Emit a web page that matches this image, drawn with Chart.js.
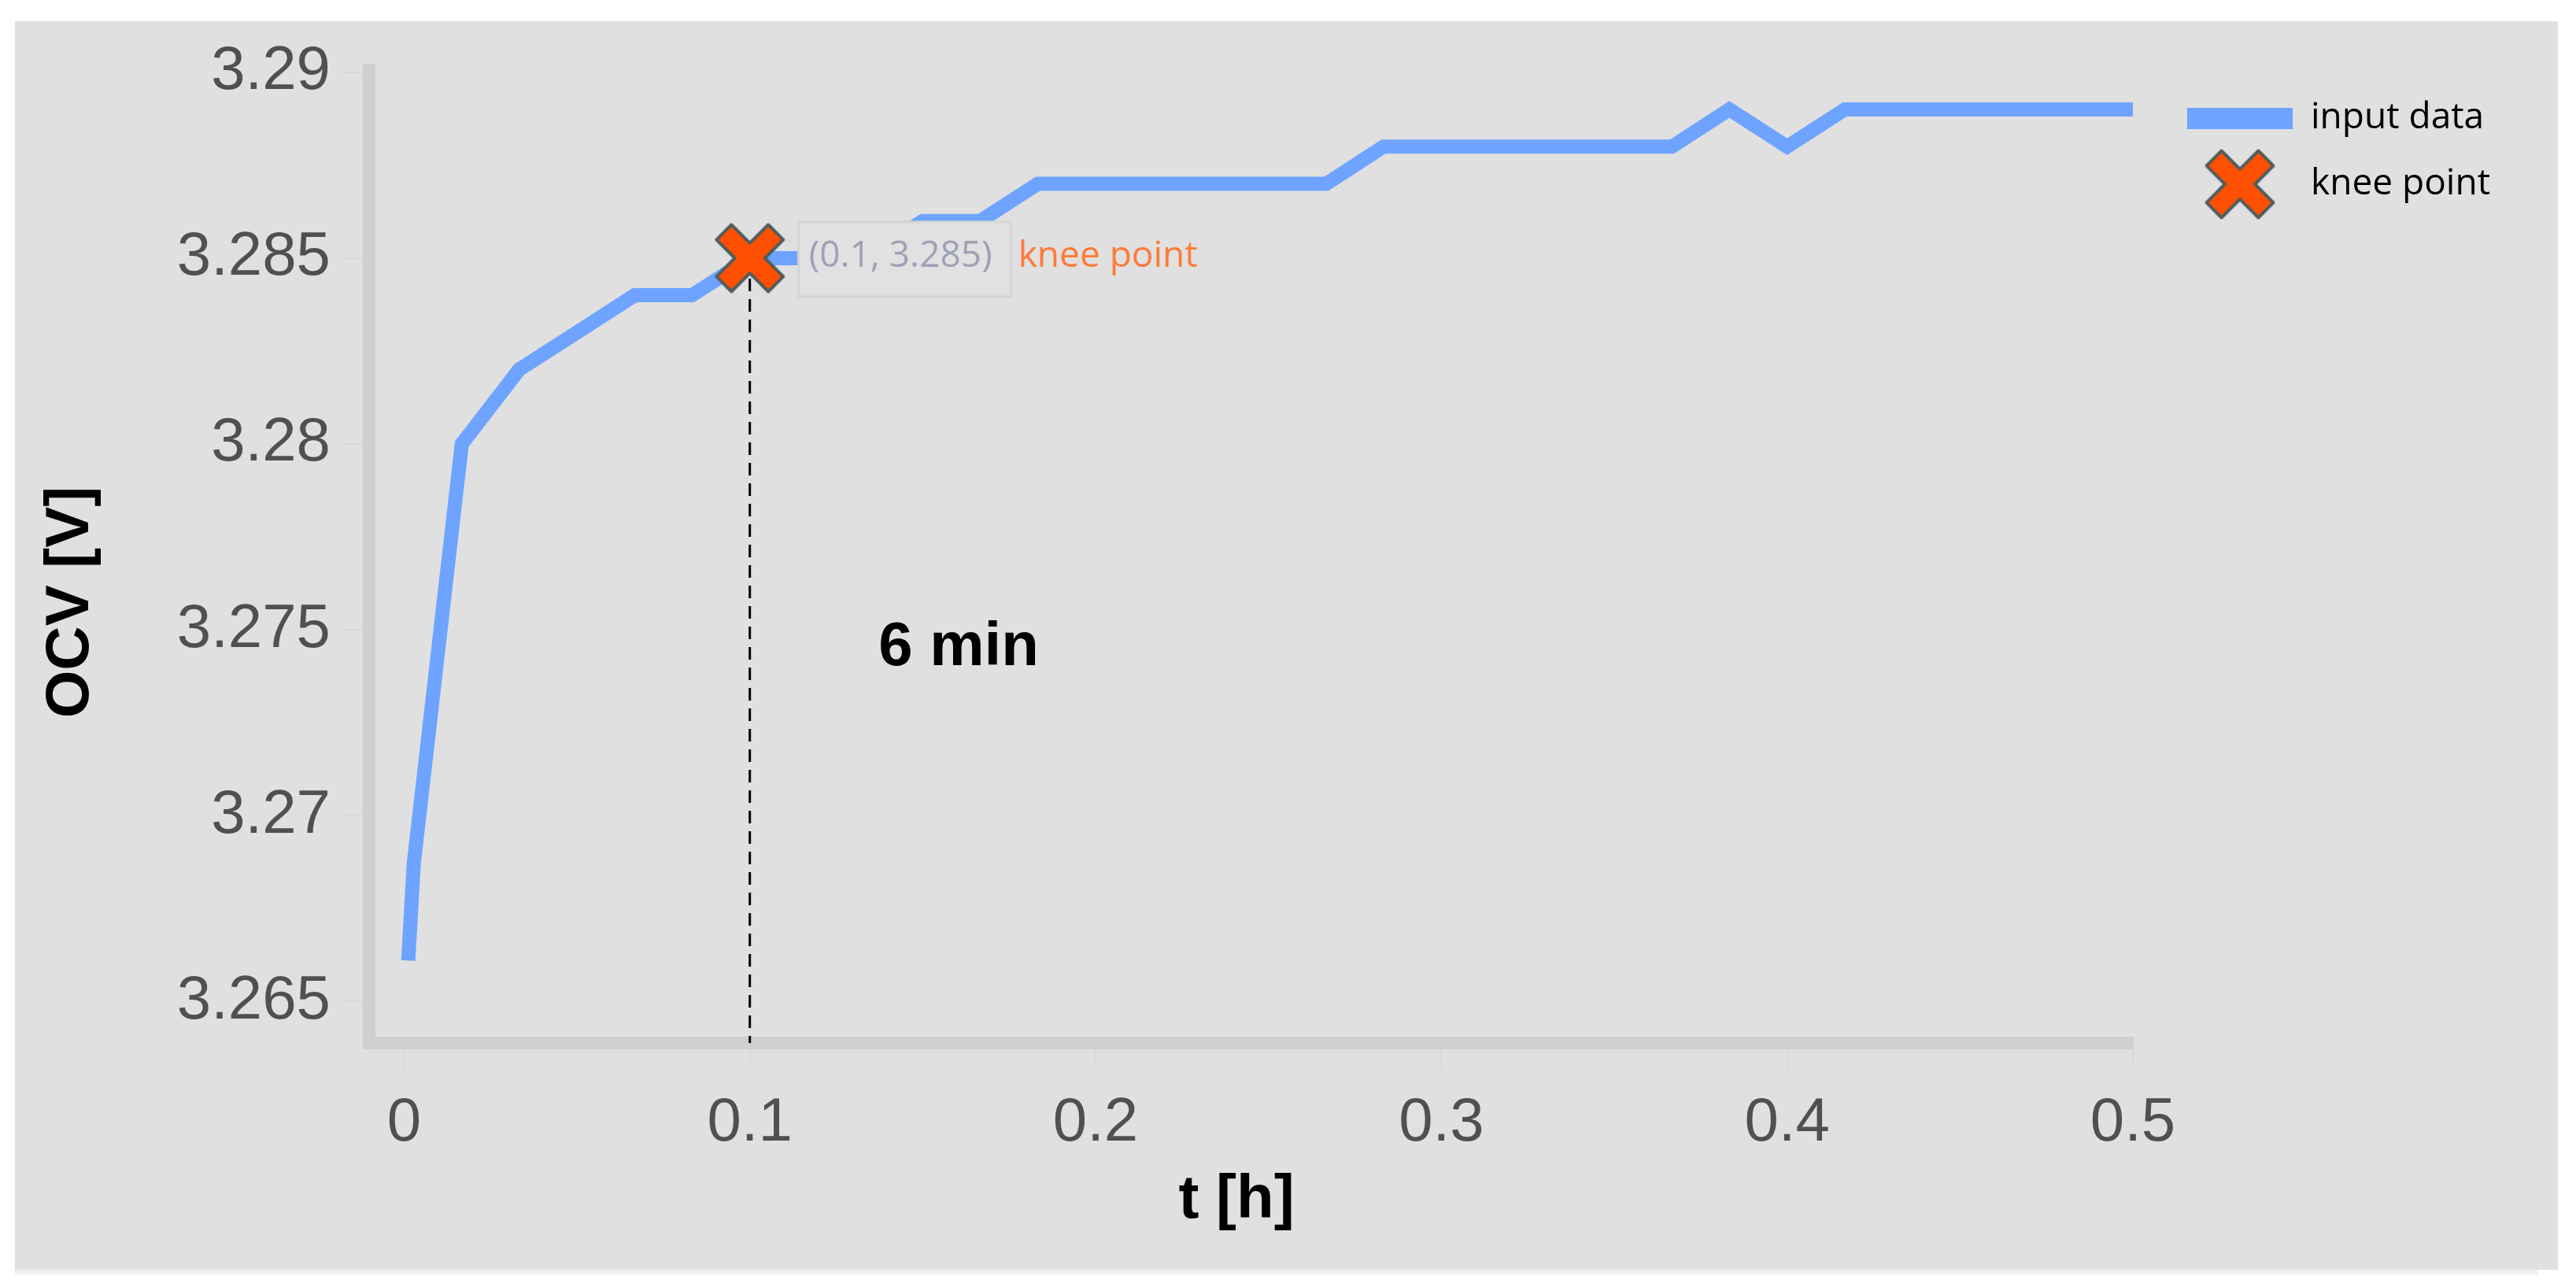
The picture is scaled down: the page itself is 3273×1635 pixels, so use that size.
<!DOCTYPE html>
<html>
<head>
<meta charset="utf-8">
<style>
html,body{margin:0;padding:0;background:#ffffff;overflow:hidden}
canvas{display:block}
</style>
</head>
<body>
<canvas id="c" width="3273" height="1635"></canvas>
<script src="https://cdn.jsdelivr.net/npm/chart.js"></script>
<script>
// ---- data ----
const tHours = [0.0012, 0.0028, 0.0167, 0.0333, 0.05, 0.0667, 0.0833, 0.1, 0.1167, 0.1333,
                0.15, 0.1667, 0.1833, 0.2, 0.2167, 0.2333, 0.25, 0.2667, 0.2833, 0.3,
                0.3167, 0.3333, 0.35, 0.3667, 0.3833, 0.4, 0.4167, 0.4333, 0.45, 0.4667,
                0.4833, 0.5];
const ocvVolts = [3.2661, 3.2687, 3.28, 3.282, 3.283, 3.284, 3.284, 3.285, 3.285, 3.285,
                  3.286, 3.286, 3.287, 3.287, 3.287, 3.287, 3.287, 3.287, 3.288, 3.288,
                  3.288, 3.288, 3.288, 3.288, 3.289, 3.288, 3.289, 3.289, 3.289, 3.289,
                  3.289, 3.289];
const kneeT = [0.1];
const kneeV = [3.285];
const seriesNames = ['input data', 'knee point'];
const kneeCoordText = '(0.1, 3.285)';
const durationText = '6 min';
const durationAt = [0.1604, 3.27405];
const xTicks = [0, 0.1, 0.2, 0.3, 0.4, 0.5];
const xTickLabels = ['0', '0.1', '0.2', '0.3', '0.4', '0.5'];
const yTicks = [3.265, 3.27, 3.275, 3.28, 3.285, 3.29];
const yTickLabels = ['3.265', '3.27', '3.275', '3.28', '3.285', '3.29'];
const xRange = [-0.0101, 0.5];
const yRange = [3.26388, 3.29006];
const xTitle = 't [h]';
const yTitle = 'OCV [V]';

// ---- styles ----
const BLUE = '#6ea4ff';
const BG = '#e0e0e0';
const AXIS = '#d0d0d0';
const TICKC = '#d5d9e1';
const LEGEND_FONT = {family: '"Open Sans", sans-serif', size: 46};
const LEGEND_PAD = 38;
const LEGEND_BOX = 165;

function makeCross(size, arm, offsetX) {
  const pad = 5;
  const w = Math.ceil(size + 2 * pad + 2 * Math.abs(offsetX));
  const h = Math.ceil(size + 2 * pad);
  const c = document.createElement('canvas');
  c.width = w; c.height = h;
  const g = c.getContext('2d');
  g.translate(w / 2 + offsetX, h / 2);
  g.rotate(Math.PI / 4);
  const b = arm / 2;
  const a = size / Math.SQRT2 - b;
  const pts = [[-b,-a],[b,-a],[b,-b],[a,-b],[a,b],[b,b],[b,a],[-b,a],[-b,b],[-a,b],[-a,-b],[-b,-b]];
  g.beginPath();
  pts.forEach((p, i) => i ? g.lineTo(p[0], p[1]) : g.moveTo(p[0], p[1]));
  g.closePath();
  g.fillStyle = '#ff4f00';
  g.fill();
  g.lineWidth = 4;
  g.lineJoin = 'round';
  g.strokeStyle = '#4e5d5d';
  g.stroke();
  return c;
}
function makeLineSwatch(totalW, offsetL, h) {
  const c = document.createElement('canvas');
  c.width = totalW; c.height = h;
  const g = c.getContext('2d');
  g.fillStyle = BLUE;
  g.fillRect(offsetL, 0, totalW - offsetL, h);
  return c;
}
const kneeImg = makeCross(85, 27, 0);
const kneeLegendImg = makeCross(85, 27, 15.5);
const lineLegendImg = makeLineSwatch(LEGEND_BOX, 31, 27);

// legend width so that the plot area ends at the 0.5 tick position
const mctx = document.createElement('canvas').getContext('2d');
mctx.font = LEGEND_FONT.size + 'px ' + LEGEND_FONT.family;
const legendTextW = Math.max(...seriesNames.map(s => mctx.measureText(s).width));
const legendW = LEGEND_PAD + LEGEND_BOX + LEGEND_FONT.size / 2 + legendTextW + 10;
const rightPad = Math.max(0, 3273 - 2710 - legendW);

const bgPlugin = {
  id: 'bg',
  beforeDraw(chart) {
    const ctx = chart.ctx;
    ctx.save();
    ctx.fillStyle = '#ffffff';
    ctx.fillRect(0, 0, chart.width, chart.height);
    ctx.fillStyle = BG;
    ctx.fillRect(19, 27, 3231, 1586);
    ctx.fillStyle = '#efefef';
    ctx.fillRect(19, 1613, 3205, 6);
    ctx.restore();
  }
};

const notePlugin = {
  id: 'notes',
  afterDatasetsDraw(chart) {
    const {ctx, scales} = chart;
    const x = scales.x, y = scales.y;
    const kx = x.getPixelForValue(kneeT[0]);
    const ky = y.getPixelForValue(kneeV[0]);
    ctx.save();
    const bx = kx + 62, by = ky - 46, bw = 270, bh = 95;
    ctx.fillStyle = '#e1e1e1';
    ctx.fillRect(bx, by, bw, bh);
    ctx.strokeStyle = '#d4d4d4';
    ctx.lineWidth = 3;
    ctx.strokeRect(bx, by, bw, bh);
    ctx.beginPath();
    ctx.moveTo(bx, ky - 14);
    ctx.lineTo(kx + 46, ky - 24);
    ctx.strokeStyle = '#d8d8d8';
    ctx.lineWidth = 2;
    ctx.stroke();
    ctx.font = '46px "Open Sans"';
    ctx.textBaseline = 'middle';
    ctx.textAlign = 'left';
    ctx.fillStyle = '#9ea1b6';
    ctx.fillText(kneeCoordText, bx + 13, ky - 2);
    ctx.fillStyle = '#ff7b3a';
    ctx.fillText(seriesNames[1], bx + bw + 9, ky - 2);
    ctx.font = 'bold 78px "Liberation Sans"';
    ctx.fillStyle = '#000000';
    ctx.textAlign = 'center';
    ctx.textBaseline = 'alphabetic';
    ctx.fillText(durationText, x.getPixelForValue(durationAt[0]), y.getPixelForValue(durationAt[1]));
    ctx.restore();
  },
  afterDraw(chart) {
    const ctx = chart.ctx;
    ctx.save();
    ctx.font = 'bold 78px "Liberation Sans"';
    ctx.fillStyle = '#000000';
    ctx.textAlign = 'center';
    ctx.textBaseline = 'alphabetic';
    ctx.fillText(xTitle, 1571, 1547);
    ctx.translate(112, 765);
    ctx.rotate(-Math.PI / 2);
    ctx.fillText(yTitle, 0, 0);
    ctx.restore();
  }
};

const tickFont = {family: '"Liberation Sans", Arial, sans-serif', size: 78};

new Chart(document.getElementById('c'), {
  type: 'line',
  data: {
    datasets: [
      {
        label: seriesNames[1],
        data: kneeT.map((t, i) => ({x: t, y: kneeV[i]})),
        showLine: false,
        pointStyle: kneeImg,
        pointRadius: 40,
        pointHoverRadius: 40,
        order: 0
      },
      {
        label: 'knee marker line',
        data: [{x: kneeT[0], y: kneeV[0]}, {x: kneeT[0], y: yRange[0]}],
        borderColor: '#000000',
        borderWidth: 3,
        borderDash: [16, 10],
        pointRadius: 0,
        fill: false,
        order: 1
      },
      {
        label: seriesNames[0],
        data: tHours.map((t, i) => ({x: t, y: ocvVolts[i]})),
        borderColor: BLUE,
        backgroundColor: BLUE,
        borderWidth: 18,
        borderJoinStyle: 'miter',
        borderCapStyle: 'butt',
        tension: 0,
        pointRadius: 0,
        fill: false,
        order: 2
      }
    ]
  },
  options: {
    responsive: false,
    devicePixelRatio: 1,
    animation: false,
    events: [],
    layout: {padding: {top: 89, right: rightPad, bottom: 0, left: 0}},
    scales: {
      x: {
        type: 'linear',
        min: xRange[0],
        max: xRange[1],
        afterBuildTicks: (s) => { s.ticks = xTicks.map(v => ({value: v})); },
        afterFit: (s) => { s.height = 310; },
        ticks: {
          autoSkip: false,
          maxRotation: 0,
          padding: 24,
          color: '#505050',
          font: tickFont,
          callback: (v) => { const i = xTicks.findIndex(t => Math.abs(t - v) < 1e-9); return i >= 0 ? xTickLabels[i] : ''; }
        },
        grid: {drawOnChartArea: false, drawTicks: true, tickLength: 32, color: TICKC, tickColor: TICKC, lineWidth: 2},
        border: {display: true, color: AXIS, width: 16}
      },
      y: {
        type: 'linear',
        min: yRange[0],
        max: yRange[1],
        afterBuildTicks: (s) => { s.ticks = yTicks.map(v => ({value: v})); },
        afterFit: (s) => { s.width = 469; },
        ticks: {
          autoSkip: false,
          padding: 17,
          color: '#505050',
          font: tickFont,
          callback: (v) => { const i = yTicks.findIndex(t => Math.abs(t - v) < 1e-9); return i >= 0 ? yTickLabels[i] : ''; }
        },
        grid: {drawOnChartArea: false, drawTicks: true, tickLength: 32, color: TICKC, tickColor: TICKC, lineWidth: 2},
        border: {display: true, color: AXIS, width: 16}
      }
    },
    plugins: {
      tooltip: {enabled: false},
      legend: {
        display: true,
        position: 'right',
        align: 'start',
        labels: {
          usePointStyle: true,
          pointStyleWidth: LEGEND_BOX,
          padding: LEGEND_PAD,
          color: '#3c3c3c',
          font: LEGEND_FONT,
          generateLabels: () => [
            {text: seriesNames[0], pointStyle: lineLegendImg, fillStyle: BLUE, strokeStyle: BLUE, lineWidth: 0, hidden: false, datasetIndex: 2},
            {text: seriesNames[1], pointStyle: kneeLegendImg, fillStyle: '#ff4f00', strokeStyle: '#4e5d5d', lineWidth: 0, hidden: false, datasetIndex: 0}
          ]
        }
      }
    }
  },
  plugins: [bgPlugin, notePlugin]
});
</script>
</body>
</html>
